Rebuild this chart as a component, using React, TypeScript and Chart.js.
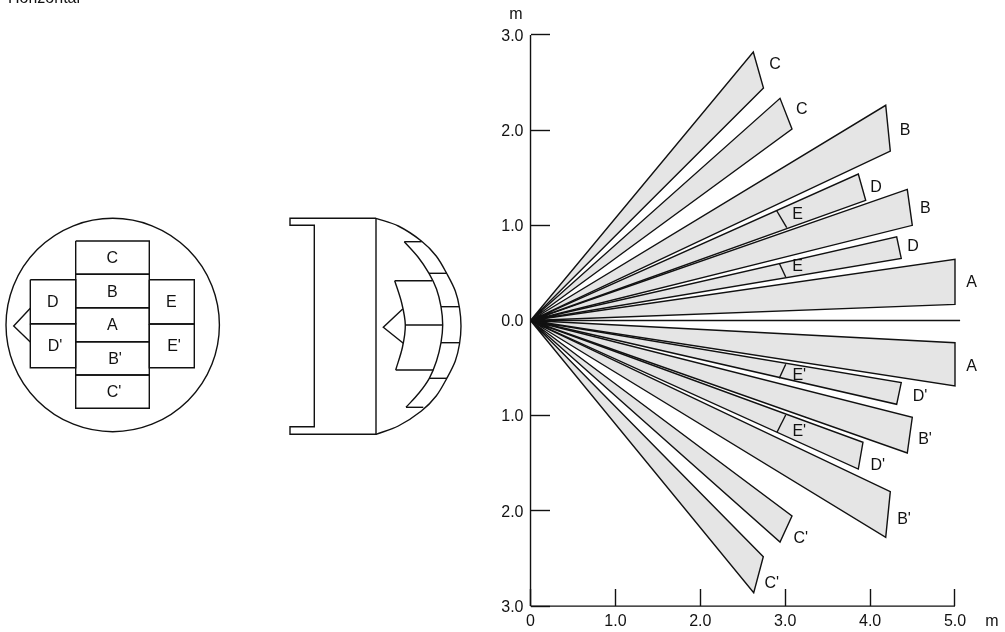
import React, { useEffect, useRef } from "react";
import { Chart, registerables } from "chart.js";

Chart.register(...registerables);

type P = [number, number];

// ---- Detection-range wedges, metres (far corners; every wedge starts at the origin)
const wedgeC1: P[] = [[2.624, 2.82], [2.744, 2.442]];
const wedgeC2: P[] = [[2.939, 2.334], [3.08, 2.012]];
const wedgeB1: P[] = [[4.184, 2.261], [4.238, 1.78]];
const wedgeD1: P[] = [[3.861, 1.539], [3.948, 1.263]];
const wedgeB2: P[] = [[4.438, 1.378], [4.497, 1.0]];
const wedgeD2: P[] = [[4.313, 0.88], [4.367, 0.653]];
const wedgeA: P[] = [[5.0, 0.643], [5.0, 0.17]];
const wedgeA2: P[] = [[5.0, -0.233], [5.0, -0.688]];
const wedgeD2b: P[] = [[4.367, -0.653], [4.313, -0.88]];
const wedgeB2b: P[] = [[4.497, -1.017], [4.438, -1.392]];
const wedgeD1b: P[] = [[3.916, -1.279], [3.861, -1.56]];
const wedgeB1b: P[] = [[4.238, -1.798], [4.184, -2.277]];
const wedgeC2b: P[] = [[3.08, -2.054], [2.939, -2.327]];
const wedgeC1b: P[] = [[2.742, -2.481], [2.629, -2.859]];
const wedges = [wedgeC1, wedgeC2, wedgeB1, wedgeD1, wedgeB2, wedgeD2, wedgeA, wedgeA2, wedgeD2b, wedgeB2b, wedgeD1b, wedgeB1b, wedgeC2b, wedgeC1b];

// E / E' boundaries across the D wedges
const dividerE1: P[] = [[2.9, 1.153], [3.018, 0.975]];
const dividerE2: P[] = [[2.93, 0.601], [3.006, 0.457]];
const dividerE2b: P[] = [[3.006, -0.46], [2.93, -0.607]];
const dividerE1b: P[] = [[3.006, -0.993], [2.903, -1.174]];
const dividers = [dividerE1, dividerE2, dividerE2b, dividerE1b];

// Axes
const xTickValues = [0, 1, 2, 3, 4, 5];
const xTickLabels = ["0", "1.0", "2.0", "3.0", "4.0", "5.0"];
const yTickValues = [3, 2, 1, 0, -1, -2, -3];
const yTickLabels = ["3.0", "2.0", "1.0", "0.0", "1.0", "2.0", "3.0"];
const axisLines: P[][] = [
  [[0, 3], [0, -3]],
  [[0, -3], [5, -3]],
  [[0, 0], [5.06, 0]],
];

// ---- Schematics, in drawing units
const lensCircleCentre: P = [112.7, 325];
const lensRects: P[][] = [
  [[75.7, 241], [149.3, 241], [149.3, 274.3], [75.7, 274.3], [75.7, 241]],
  [[75.7, 274.3], [149.3, 274.3], [149.3, 307.7], [75.7, 307.7], [75.7, 274.3]],
  [[75.7, 307.7], [149.3, 307.7], [149.3, 341.7], [75.7, 341.7], [75.7, 307.7]],
  [[75.7, 341.7], [149.3, 341.7], [149.3, 375], [75.7, 375], [75.7, 341.7]],
  [[75.7, 375], [149.3, 375], [149.3, 408.3], [75.7, 408.3], [75.7, 375]],
  [[30.3, 279.7], [75.7, 279.7], [75.7, 323.7], [30.3, 323.7], [30.3, 279.7]],
  [[30.3, 323.7], [75.7, 323.7], [75.7, 367.7], [30.3, 367.7], [30.3, 323.7]],
  [[149.3, 279.7], [194.3, 279.7], [194.3, 324], [149.3, 324], [149.3, 279.7]],
  [[149.3, 324], [194.3, 324], [194.3, 367.7], [149.3, 367.7], [149.3, 324]],
  [[30.3, 308.3], [13.7, 326], [30.3, 342]],
];
const housingLines: P[][] = [
  [[376, 218.3], [290, 218.3], [290, 225.3], [314.3, 225.3], [314.3, 426.7], [290, 426.7], [290, 434.3], [376, 434.3], [376, 218.3]],
  [[404.3, 241.7], [421.7, 241.7]],
  [[429, 273.3], [447, 273.3]],
  [[441, 306.7], [459.3, 306.7]],
  [[441, 342.7], [459.3, 342.7]],
  [[429.3, 378.3], [447, 378.3]],
  [[406, 407.3], [423.3, 407.3]],
  [[394.7, 280.7], [432.3, 280.7]],
  [[395.7, 370], [433.3, 370]],
  [[405.3, 325], [442.7, 325]],
  [[402.7, 309], [383.3, 327.3], [403.3, 343.3]],
];
const housingArcs: P[][] = [
  [[376, 218.3], [398.3, 226], [421.4, 241], [436.2, 256], [447, 274], [455.3, 291], [459.5, 308], [461, 326], [459.5, 344], [455.3, 361], [447, 378], [436.2, 396], [421.4, 411], [398.3, 426], [376, 434.3]],
  [[404.3, 241.7], [418, 257], [429, 273.3], [436.5, 289], [441, 306.7], [442.7, 325], [441, 342.7], [436.5, 361], [429.3, 378.3], [419, 393], [406, 407.3]],
  [[394.7, 280.7], [401.7, 303], [405.3, 325], [402.5, 347], [395.7, 370]],
];

// ---- Text
const titleLabel = { text: "Horizontal", at: [8, 2.5] as P };
type T = [string, number, number];
const lensLabels: T[] = [
  ["C", 112.3, 257.7], ["B", 112.3, 291.7], ["A", 112.3, 325], ["B'", 115, 358.3], ["C'", 114, 391.7],
  ["D", 52.7, 301.7], ["D'", 55, 345.7], ["E", 171.3, 301.7], ["E'", 174, 345.7],
];
const wedgeLabels: T[] = [
  ["C", 775, 64], ["C", 801.7, 109], ["B", 905, 130], ["D", 876, 186.7], ["E", 797.7, 214], ["B", 925.3, 207.7],
  ["D", 913, 245.7], ["E", 797.7, 266], ["A", 971.7, 281.7], ["A", 971.7, 365.7], ["D'", 920, 396], ["E'", 799.3, 374.3],
  ["B'", 925, 438.7], ["D'", 877.7, 465], ["E'", 799.3, 431], ["B'", 904, 519], ["C'", 800.7, 537.7], ["C'", 771.7, 582.7],
];
const unitLabels: T[] = [["m", 516, 14], ["m", 992, 620.5]];

const FONT = '"Liberation Sans", Arial, sans-serif';
const FONT_SIZE = 16;
const INK = "#111111";
const LINE_WIDTH = 1.4;
const toXY = (pts: P[]) => pts.map(([x, y]) => ({ x, y }));

const textPlugin = {
  id: "diagramText",
  afterDatasetsDraw(chart: any) {
    const { ctx } = chart;
    const sx = chart.scales.px;
    const sy = chart.scales.py;
    ctx.save();
    ctx.fillStyle = INK;
    ctx.font = `${FONT_SIZE}px ${FONT}`;
    ctx.textAlign = "center";
    ctx.textBaseline = "middle";
    for (const [t, x, y] of [...lensLabels, ...wedgeLabels, ...unitLabels]) {
      ctx.fillText(t, sx.getPixelForValue(x), sy.getPixelForValue(y) + 1);
    }
    ctx.textAlign = "left";
    ctx.textBaseline = "alphabetic";
    ctx.fillText(titleLabel.text, sx.getPixelForValue(titleLabel.at[0]), sy.getPixelForValue(titleLabel.at[1]));
    ctx.restore();
  },
};

const noPadding = (s: any) => {
  s.paddingTop = 0;
  s.paddingBottom = 0;
  s.paddingLeft = 0;
  s.paddingRight = 0;
};

export default function App() {
  const ref = useRef<HTMLCanvasElement>(null);
  useEffect(() => {
    const line = { borderColor: INK, borderWidth: LINE_WIDTH, pointRadius: 0, showLine: true, fill: false };
    const onMetres = { xAxisID: "x", yAxisID: "y" };
    const onDrawing = { xAxisID: "px", yAxisID: "py" };
    // Chart.js paints the first dataset last, so the thin lines come before the filled wedges.
    const datasets: any[] = [
      ...dividers.map((d) => ({ ...line, ...onMetres, data: toXY(d) })),
      ...axisLines.map((a) => ({ ...line, ...onMetres, data: toXY(a) })),
      {
        ...onDrawing,
        data: toXY([lensCircleCentre]),
        showLine: false,
        pointRadius: 106.7,
        pointBorderColor: INK,
        pointBorderWidth: LINE_WIDTH,
        pointBackgroundColor: "rgba(0,0,0,0)",
      },
      ...lensRects.map((r) => ({ ...line, ...onDrawing, data: toXY(r) })),
      ...housingLines.map((r) => ({ ...line, ...onDrawing, data: toXY(r) })),
      ...housingArcs.map((r) => ({ ...line, ...onDrawing, data: toXY(r), tension: 0.33 })),
      ...wedges.map((w) => ({
        ...line, ...onMetres,
        data: toXY([[0, 0], ...w, [0, 0]]),
        fill: "shape",
        backgroundColor: "#e5e5e5",
      })),
    ];
    const tickFont = { family: FONT, size: FONT_SIZE };
    const setYTicks = (s: any) => { s.ticks = yTickValues.map((value) => ({ value })); };
    const chart = new Chart(ref.current as HTMLCanvasElement, {
      type: "scatter",
      data: { datasets },
      plugins: [textPlugin],
      options: {
        animation: false,
        responsive: false,
        events: [],
        layout: { padding: 0, autoPadding: false },
        plugins: { legend: { display: false }, tooltip: { enabled: false }, title: { display: false } },
        scales: {
          x: {
            type: "linear",
            min: -6.249,
            max: 5.589,
            position: { y: -3 },
            border: { display: false },
            grid: { drawOnChartArea: false, drawTicks: true, tickLength: -17, tickColor: INK, tickWidth: LINE_WIDTH },
            afterBuildTicks: (s: any) => { s.ticks = xTickValues.map((value) => ({ value })); },
            afterFit: noPadding,
            ticks: {
              autoSkip: false, maxRotation: 0, color: INK, font: tickFont, padding: 23,
              callback: (v: any) => xTickLabels[xTickValues.indexOf(Number(v))],
            },
          },
          y: {
            type: "linear",
            min: -3.272,
            max: 3.367,
            position: { x: 0 },
            border: { display: false },
            grid: { drawOnChartArea: false, drawTicks: true, tickLength: -19, tickColor: INK, tickWidth: LINE_WIDTH },
            afterBuildTicks: setYTicks,
            afterFit: noPadding,
            ticks: { display: false },
          },
          // carries only the y tick labels, set a few pixels clear of the axis line
          yLabels: {
            type: "linear",
            axis: "y",
            min: -3.258,
            max: 3.381,
            position: { x: -0.0825 },
            border: { display: false },
            grid: { display: false, drawOnChartArea: false, drawTicks: false },
            afterBuildTicks: setYTicks,
            afterFit: noPadding,
            ticks: {
              autoSkip: false, color: INK, font: tickFont,
              callback: (v: any) => yTickLabels[yTickValues.indexOf(Number(v))],
            },
          },
          px: { type: "linear", axis: "x", display: false, min: 0, max: 1005 },
          py: { type: "linear", axis: "y", display: false, min: 0, max: 632, reverse: true },
        },
      } as any,
    });
    return () => chart.destroy();
  }, []);
  return (
    <canvas
      ref={ref}
      width={1005}
      height={632}
      style={{ position: "absolute", left: 0, top: 0, display: "block", width: 1005, height: 632 }}
    />
  );
}
